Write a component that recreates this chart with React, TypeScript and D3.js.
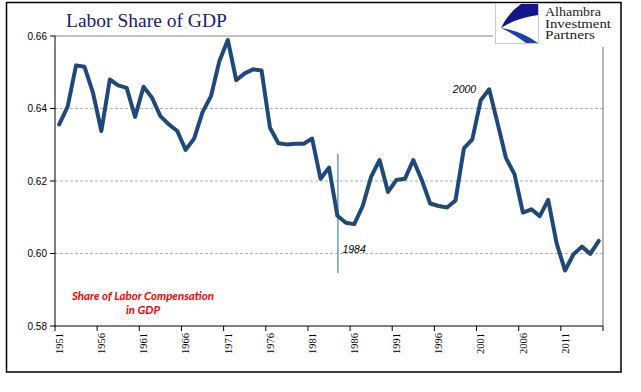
import React from 'react';
import * as d3 from 'd3';

const firstYear = 1951;
const laborShare = [
  0.6356, 0.6405, 0.6519, 0.6515, 0.6444, 0.6338, 0.6480, 0.6464, 0.6457, 0.6377,
  0.6460, 0.6430, 0.6379, 0.6356, 0.6338, 0.6286, 0.6317, 0.6390, 0.6434, 0.6531,
  0.6589, 0.6478, 0.6497, 0.6508, 0.6505, 0.6347, 0.6304, 0.6301, 0.6303, 0.6303,
  0.6317, 0.6206, 0.6237, 0.6104, 0.6085, 0.6081, 0.6131, 0.6212, 0.6258, 0.6170,
  0.6203, 0.6206, 0.6258, 0.6203, 0.6138, 0.6131, 0.6127, 0.6146, 0.6290, 0.6315,
  0.6423, 0.6453, 0.6359, 0.6263, 0.6219, 0.6113, 0.6122, 0.6103, 0.6148, 0.6028,
  0.5953, 0.5998, 0.6019, 0.5999, 0.6035,
];
const years = laborShare.map((_, i) => firstYear + i);
const yTicks = [0.58, 0.6, 0.62, 0.64, 0.66];
const labelEvery = 5;
const markerYear = 1984;
const peakYear = 2002;
const logoLines = ['Alhambra', 'Investment', 'Partners'];

const App = () => {
  const width = 641;
  const height = 392;
  const left = 55;
  const right = 603;
  const top = 36;
  const bottom = 326;

  const x = d3.scaleBand<number>().domain(years).range([left, right]).padding(0);
  const bw = x.bandwidth();
  const cx = (yr: number) => (x(yr) as number) + bw / 2;
  const y = d3.scaleLinear().domain([0.58, 0.66]).range([bottom, top]);

  const line = d3.line<number>()
    .x((_, i) => cx(years[i]))
    .y(d => y(d));

  const tickYears = years.filter((_, i) => i % labelEvery === 0);
  const tickXs = [...tickYears.map(yr => x(yr) as number), right];

  return (
    <svg width={width} height={height} style={{ position: 'absolute', left: 0, top: 0 }}>
      <rect x={0} y={0} width={width} height={height} fill="#fff" />
      <rect x={6.5} y={2.5} width={614.5} height={369.5} fill="none" stroke="#000" strokeWidth={1.5} />

      {/* title */}
      <text x={66} y={27} fontFamily="'Liberation Serif', serif" fontSize={19.5} fill="#16217a">
        Labor Share of GDP
      </text>

      {/* grid */}
      {yTicks.filter(t => t > 0.585 && t < 0.655).map(t => (
        <line key={t} x1={left} x2={right} y1={y(t)} y2={y(t)} stroke="#b0b0b0" strokeWidth={1} strokeDasharray="3,2" />
      ))}
      <line x1={left} x2={493} y1={y(0.66)} y2={y(0.66)} stroke="#868686" strokeWidth={1.2} />
      <line x1={right} x2={right} y1={47} y2={bottom} stroke="#868686" strokeWidth={1.2} />

      {/* y axis */}
      <line x1={left} x2={left} y1={top} y2={bottom} stroke="#000" strokeWidth={1} />
      {yTicks.map(t => (
        <g key={t}>
          <line x1={left - 5} x2={left} y1={y(t)} y2={y(t)} stroke="#000" />
          <text x={left - 8} y={y(t)} dy="0.35em" textAnchor="end" fontFamily="'Liberation Sans', sans-serif" fontSize={10} fill="#000">
            {d3.format('.2f')(t)}
          </text>
        </g>
      ))}

      {/* x axis */}
      <line x1={left} x2={right} y1={bottom} y2={bottom} stroke="#000" strokeWidth={1} />
      {tickXs.map((tx, i) => (
        <line key={i} x1={tx} x2={tx} y1={bottom} y2={bottom + 5} stroke="#000" />
      ))}
      {tickYears.map(yr => (
        <text key={yr} transform={`translate(${cx(yr)},${bottom + 7}) rotate(-90)`} dy="0.35em" textAnchor="end"
          fontFamily="'Liberation Serif', serif" fontSize={10.5} fill="#000">
          {yr}
        </text>
      ))}

      {/* 1984 marker */}
      <line x1={cx(markerYear) + 0.5} x2={cx(markerYear) + 0.5} y1={154} y2={273} stroke="#4a7ebb" strokeWidth={1.2} />
      <text x={cx(markerYear) + 5} y={253} fontFamily="'Liberation Sans', sans-serif" fontStyle="italic" fontSize={10.5} fill="#000">
        {markerYear}
      </text>

      <path d={line(laborShare) ?? ''} fill="none" stroke="#1f497d" strokeWidth={4} strokeLinejoin="round" strokeLinecap="round" />

      <text x={cx(peakYear) - 13} y={y(laborShare[peakYear - firstYear]) + 4} textAnchor="end"
        fontFamily="'Liberation Sans', sans-serif" fontStyle="italic" fontSize={10.5} fill="#000">
        2000
      </text>

      {/* series note */}
      <g fontFamily="Lato, sans-serif" fontStyle="italic" fontWeight={700} fontSize={11.5} fill="#ff0000" textAnchor="middle">
        <text x={143} y={300}>Share of Labor Compensation</text>
        <text x={143} y={314}>in GDP</text>
      </g>

      {/* logo */}
      <rect x={495.5} y={3.5} width={43} height={40} fill="#fff" stroke="#c8c8c8" />
      <path d="M521 4 L538 4 L538 15 Q516 18 501 28 Q508 13 521 4 Z" fill="#14168a" />
      <path d="M501 28 Q521 31 538 43 L526 43 Q514 34 501 28 Z" fill="#1b3fb0" />
      <g fontFamily="'Liberation Serif', serif" fontSize={11.5} fill="#222">
        {logoLines.map((s, i) => (
          <text key={s} x={545} y={16 + i * 11.5} textLength={s === 'Investment' ? 66 : s === 'Alhambra' ? 56 : 50}
            lengthAdjust="spacingAndGlyphs">
            {s}
          </text>
        ))}
      </g>
    </svg>
  );
};

export default App;
